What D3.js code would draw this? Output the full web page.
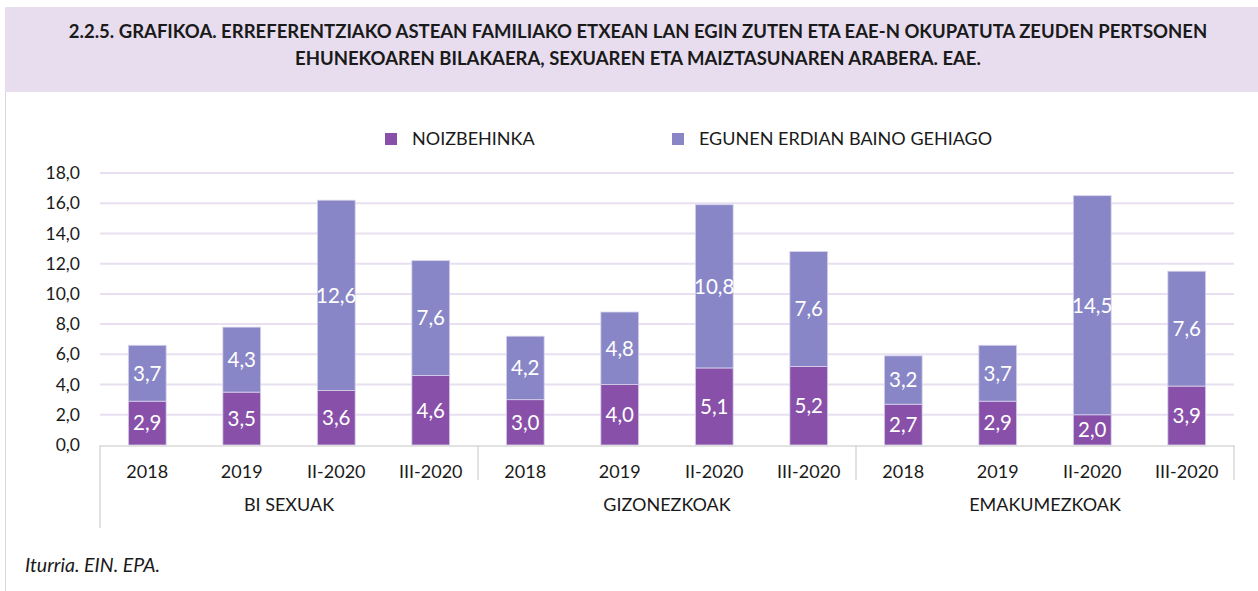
<!DOCTYPE html>
<html>
<head>
<meta charset="utf-8">
<script src="https://cdn.jsdelivr.net/npm/d3@7"></script>
<style>
    body { margin: 0; background: #fff; }
    svg { display: block; font-family: Lato, "Open Sans", sans-serif; }
</style>
</head>
<body>
<script>
// chart data
var groups = ["BI SEXUAK", "GIZONEZKOAK", "EMAKUMEZKOAK"];
var periods = ["2018", "2019", "II-2020", "III-2020"];
var seriesNames = ["NOIZBEHINKA", "EGUNEN ERDIAN BAINO GEHIAGO"];
var noizbehinka = [2.9, 3.5, 3.6, 4.6, 3.0, 4.0, 5.1, 5.2, 2.7, 2.9, 2.0, 3.9];
var egunenErdian = [3.7, 4.3, 12.6, 7.6, 4.2, 4.8, 10.8, 7.6, 3.2, 3.7, 14.5, 7.6];
var yTicks = [0, 2, 4, 6, 8, 10, 12, 14, 16, 18];
var titleLines = [
    "2.2.5. GRAFIKOA. ERREFERENTZIAKO ASTEAN FAMILIAKO ETXEAN LAN EGIN ZUTEN ETA EAE-N OKUPATUTA ZEUDEN PERTSONEN",
    "EHUNEKOAREN BILAKAERA, SEXUAREN ETA MAIZTASUNAREN ARABERA. EAE."
];
var source = "Iturria. EIN. EPA.";

window.onload = function() {
    drawChart();
};

function drawChart() {

    var width = 1258,
        height = 591;

    var colors = ["#8850a8", "#8886c6"];

    var svg = d3.select("body")
        .append("svg")
        .attr("width", width)
        .attr("height", height);

    //title band and left border
    svg.append("rect")
        .attr("x", 5).attr("y", 7)
        .attr("width", width - 5).attr("height", 85)
        .attr("fill", "#e7ddee");

    svg.append("line")
        .attr("x1", 5.5).attr("x2", 5.5)
        .attr("y1", 92).attr("y2", height)
        .attr("stroke", "#d9d9d9");

    svg.selectAll(".title")
        .data(titleLines)
        .enter()
        .append("text")
        .attr("class", "title")
        .attr("x", 638)
        .attr("y", function(d, i) { return 31 + i * 27; })
        .attr("dy", "0.36em")
        .attr("text-anchor", "middle")
        .attr("font-size", 18.5)
        .attr("font-weight", "bold")
        .attr("fill", "#1a1a1a")
        .text(function(d) { return d; });

    //scales
    var plotLeft = 100, plotRight = 1234;

    var x0 = d3.scaleBand()
        .domain(groups)
        .range([plotLeft, plotRight]);

    var x1 = d3.scaleBand()
        .domain(periods)
        .range([0, x0.bandwidth()])
        .paddingInner(0.6)
        .paddingOuter(0.3);

    var y = d3.scaleLinear()
        .domain([0, 18])
        .range([445, 173]);

    //gridlines
    svg.selectAll(".grid")
        .data(yTicks.slice(1))
        .enter()
        .append("line")
        .attr("class", "grid")
        .attr("x1", plotLeft).attr("x2", plotRight)
        .attr("y1", function(d) { return y(d); })
        .attr("y2", function(d) { return y(d); })
        .attr("stroke", "#e8dff0")
        .attr("stroke-width", 2);

    //y axis labels
    var yAxis = d3.axisLeft(y)
        .tickValues(yTicks)
        .tickSize(0)
        .tickPadding(0)
        .tickFormat(function(d) { return d3.format(".1f")(d).replace(".", ","); });

    var yG = svg.append("g")
        .attr("transform", "translate(80,0)")
        .call(yAxis);
    yG.select(".domain").remove();
    yG.selectAll("text")
        .attr("font-size", 17.5)
        .attr("font-family", "Lato, sans-serif")
        .attr("fill", "#1a1a1a");

    //stacked data
    var rows = [];
    groups.forEach(function(g, gi) {
        periods.forEach(function(p, pi) {
            var k = gi * periods.length + pi;
            rows.push({ group: g, period: p, a: noizbehinka[k], b: egunenErdian[k] });
        });
    });

    var segs = [];
    rows.forEach(function(r) {
        segs.push({ row: r, s: 0, y0: 0, y1: r.a, v: r.a });
        segs.push({ row: r, s: 1, y0: r.a, y1: r.a + r.b, v: r.b });
    });

    svg.selectAll(".bar")
        .data(segs)
        .enter()
        .append("rect")
        .attr("class", "bar")
        .attr("x", function(d) { return x0(d.row.group) + x1(d.row.period); })
        .attr("width", x1.bandwidth())
        .attr("y", function(d) { return y(d.y1); })
        .attr("height", function(d) { return y(d.y0) - y(d.y1); })
        .attr("fill", function(d) { return colors[d.s]; })
        .attr("stroke", "#d8d2ec")
        .attr("stroke-width", 0.8);

    svg.selectAll(".barLabel")
        .data(segs)
        .enter()
        .append("text")
        .attr("class", "barLabel")
        .attr("x", function(d) { return x0(d.row.group) + x1(d.row.period) + x1.bandwidth() / 2; })
        .attr("y", function(d) { return (y(d.y0) + y(d.y1)) / 2; })
        .attr("dy", "0.36em")
        .attr("text-anchor", "middle")
        .attr("font-size", 20.5)
        .attr("fill", "#ffffff")
        .text(function(d) { return d3.format(".1f")(d.v).replace(".", ","); });

    //category axis
    svg.append("line")
        .attr("x1", plotLeft).attr("x2", plotRight)
        .attr("y1", y(0) + 1).attr("y2", y(0) + 1)
        .attr("stroke", "#d9d9d9").attr("stroke-width", 1.5);

    svg.append("line")
        .attr("x1", plotLeft).attr("x2", plotLeft)
        .attr("y1", y(0)).attr("y2", 528)
        .attr("stroke", "#d9d9d9").attr("stroke-width", 1.5);

    svg.selectAll(".sep")
        .data(groups)
        .enter()
        .append("line")
        .attr("class", "sep")
        .attr("x1", function(d) { return x0(d) + x0.bandwidth(); })
        .attr("x2", function(d) { return x0(d) + x0.bandwidth(); })
        .attr("y1", y(0)).attr("y2", 480)
        .attr("stroke", "#d9d9d9").attr("stroke-width", 1.5);

    svg.selectAll(".periodLabel")
        .data(rows)
        .enter()
        .append("text")
        .attr("class", "periodLabel")
        .attr("x", function(d) { return x0(d.group) + x1(d.period) + x1.bandwidth() / 2; })
        .attr("y", 472)
        .attr("dy", "0.36em")
        .attr("text-anchor", "middle")
        .attr("font-size", 18)
        .attr("fill", "#1a1a1a")
        .text(function(d) { return d.period; });

    svg.selectAll(".groupLabel")
        .data(groups)
        .enter()
        .append("text")
        .attr("class", "groupLabel")
        .attr("x", function(d) { return x0(d) + x0.bandwidth() / 2; })
        .attr("y", 505)
        .attr("dy", "0.36em")
        .attr("text-anchor", "middle")
        .attr("font-size", 18)
        .attr("fill", "#1a1a1a")
        .text(function(d) { return d; });

    //legend
    var legendX = [385, 672];
    var legend = svg.selectAll(".legend")
        .data(seriesNames)
        .enter()
        .append("g")
        .attr("class", "legend")
        .attr("transform", function(d, i) { return "translate(" + legendX[i] + ",133)"; });

    legend.append("rect")
        .attr("width", 12).attr("height", 12)
        .attr("fill", function(d, i) { return colors[i]; });

    legend.append("text")
        .attr("x", 27).attr("y", 6)
        .attr("dy", "0.36em")
        .attr("font-size", 18)
        .attr("fill", "#1a1a1a")
        .text(function(d) { return d; });

    //source
    svg.append("text")
        .attr("x", 25).attr("y", 565)
        .attr("dy", "0.36em")
        .attr("font-size", 19.5)
        .attr("font-style", "italic")
        .attr("fill", "#1a1a1a")
        .text(source);
};
</script>
</body>
</html>
